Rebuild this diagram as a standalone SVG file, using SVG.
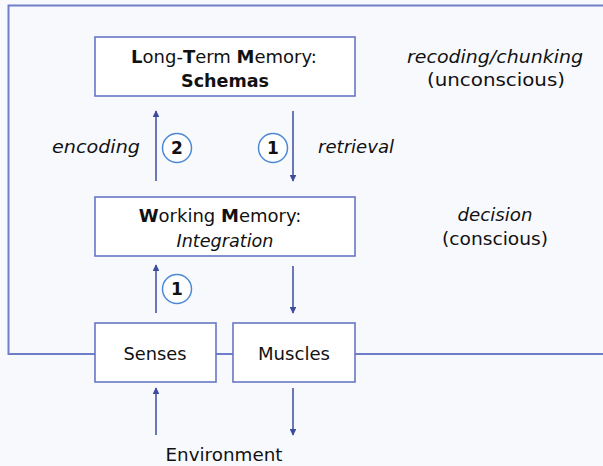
<svg xmlns="http://www.w3.org/2000/svg" width="603" height="466" viewBox="0 0 603 466">
<style>
.bg{fill:#f8f9fd}
.box{fill:#ffffff;stroke:#6677c4;stroke-width:1.6}
.frame{fill:none;stroke:#6f7ec8;stroke-width:2}
.arr{stroke:#3d4c9c;stroke-width:1.5;fill:none;marker-end:url(#ah)}
.circ{fill:#ffffff;stroke:#4c8ad6;stroke-width:1.5}
text{font-family:"DejaVu Sans","Liberation Sans",sans-serif;fill:#111111;font-size:18px}
.c{text-anchor:middle}
.b{font-weight:bold}
.i{font-style:italic}
.d{font-size:17px;font-weight:bold}
</style>
<defs>
<marker id="ah" viewBox="0 0 10 10" refX="9" refY="5" markerWidth="4.5" markerHeight="4.5" orient="auto" markerUnits="strokeWidth">
<path d="M0,0 L10,5 L0,10 z" fill="#3d4c9c"/>
</marker>
</defs>
<rect class="bg" x="0" y="0" width="603" height="466"/>
<g id="frame">
<polyline class="frame" points="603,5.5 8.5,5.5 8.5,354 95,354"/>
<line class="frame" x1="216" y1="354" x2="233" y2="354"/>
<line class="frame" x1="355" y1="354" x2="603" y2="354"/>
</g>
<g id="connectors">
<line class="arr" x1="156" y1="181" x2="156" y2="111"/>
<line class="arr" x1="293" y1="111" x2="293" y2="181"/>
<line class="arr" x1="156" y1="313" x2="156" y2="265"/>
<line class="arr" x1="293" y1="266" x2="293" y2="313"/>
<line class="arr" x1="156" y1="435" x2="156" y2="388"/>
<line class="arr" x1="293" y1="388" x2="293" y2="435"/>
</g>
<g id="ltm">
<rect class="box" x="95" y="37" width="260" height="59"/>
<text class="c" x="224" y="63"><tspan class="b">L</tspan>ong-<tspan class="b">T</tspan>erm <tspan class="b">M</tspan>emory:</text>
<text class="c b" x="225" y="87" textLength="88" lengthAdjust="spacingAndGlyphs">Schemas</text>
</g>
<g id="wm">
<rect class="box" x="95" y="197" width="260" height="59"/>
<text class="c" x="220" y="222"><tspan class="b">W</tspan>orking <tspan class="b">M</tspan>emory:</text>
<text class="c i" x="225" y="247" textLength="97" lengthAdjust="spacingAndGlyphs">Integration</text>
</g>
<g id="senses">
<rect class="box" x="95" y="323" width="121" height="59"/>
<text class="c" x="155" y="360" textLength="63" lengthAdjust="spacingAndGlyphs">Senses</text>
</g>
<g id="muscles">
<rect class="box" x="233" y="323" width="122" height="59"/>
<text class="c" x="294" y="360" textLength="72" lengthAdjust="spacingAndGlyphs">Muscles</text>
</g>
<g id="environment">
<text class="c" x="224" y="461" textLength="117" lengthAdjust="spacingAndGlyphs">Environment</text>
</g>
<g id="labels">
<text class="i" x="52" y="153" textLength="88" lengthAdjust="spacingAndGlyphs">encoding</text>
<text class="i" x="318" y="153" textLength="76" lengthAdjust="spacingAndGlyphs">retrieval</text>
<text class="c i" x="495" y="63" textLength="176" lengthAdjust="spacingAndGlyphs">recoding/chunking</text>
<text class="c" x="496" y="86" textLength="138" lengthAdjust="spacingAndGlyphs">(unconscious)</text>
<text class="c i" x="495" y="221" textLength="75" lengthAdjust="spacingAndGlyphs">decision</text>
<text class="c" x="495" y="245" textLength="106" lengthAdjust="spacingAndGlyphs">(conscious)</text>
</g>
<g id="step-encoding">
<circle class="circ" cx="177" cy="148" r="14.5"/>
<text class="c d" x="177" y="154">2</text>
</g>
<g id="step-retrieval">
<circle class="circ" cx="273" cy="148" r="14.5"/>
<text class="c d" x="273" y="154">1</text>
</g>
<g id="step-senses">
<circle class="circ" cx="177" cy="289" r="14.5"/>
<text class="c d" x="177" y="295">1</text>
</g>
</svg>
